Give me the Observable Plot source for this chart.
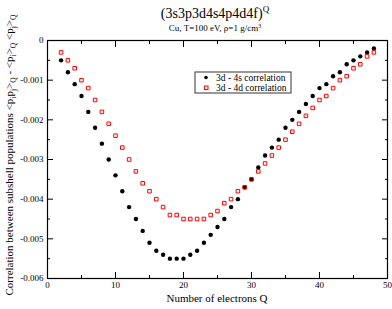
<!DOCTYPE html>
<html>
<head>
<meta charset="utf-8">
<script src="https://cdn.jsdelivr.net/npm/d3@7"></script>
<script src="https://cdn.jsdelivr.net/npm/@observablehq/plot@0.6"></script>
<style>
  html, body { margin: 0; padding: 0; background: #fff; }
  svg { display: block; }
</style>
</head>
<body>
<div id="chart"></div>
<script>
const Q = [2,3,4,5,6,7,8,9,10,11,12,13,14,15,16,17,18,19,20,21,22,23,24,25,26,27,28,29,30,31,32,33,34,35,36,37,38,39,40,41,42,43,44,45,46,47,48];
const corr4s = [-0.0005,-0.0008,-0.0011,-0.0014,-0.0018,-0.0022,-0.0026,-0.0030,-0.0034,-0.0038,-0.0042,-0.0045,-0.0048,-0.0051,-0.0053,-0.0054,-0.0055,-0.0055,-0.0055,-0.0054,-0.0053,-0.0051,-0.0049,-0.0047,-0.0045,-0.0042,-0.0040,-0.0037,-0.0035,-0.0032,-0.0029,-0.0027,-0.0025,-0.0022,-0.0020,-0.0018,-0.0016,-0.0014,-0.0012,-0.0011,-0.0009,-0.0008,-0.0006,-0.0005,-0.0004,-0.0003,-0.0002];
const corr4d = [-0.0003,-0.0005,-0.0007,-0.0010,-0.0012,-0.0015,-0.0018,-0.0021,-0.0024,-0.0027,-0.0030,-0.0033,-0.0036,-0.0038,-0.0040,-0.0042,-0.0044,-0.0044,-0.0045,-0.0045,-0.0045,-0.0045,-0.0044,-0.0043,-0.0041,-0.0040,-0.0038,-0.0037,-0.0035,-0.0033,-0.0031,-0.0029,-0.0027,-0.0025,-0.0023,-0.0021,-0.0019,-0.0017,-0.0015,-0.0014,-0.0012,-0.0010,-0.0009,-0.0007,-0.0006,-0.0004,-0.0003];
const seriesNames = ["3d - 4s correlation", "3d - 4d correlation"];
const xMajor = [0,10,20,30,40,50];
const xMinor = [5,15,25,35,45];
const yMajor = [-0.006,-0.005,-0.004,-0.003,-0.002,-0.001,0];
const yMinor = [-0.0055,-0.0045,-0.0035,-0.0025,-0.0015,-0.0005];

const d4s = Q.map((q,i) => ({Q:q, v:corr4s[i]}));
const d4d = Q.map((q,i) => ({Q:q, v:corr4d[i]}));

const FONT = "Liberation Serif, Times New Roman, serif";
const blank = () => "";
const yfmt = d => d === 0 ? "0" : d.toFixed(3);

const plot = Plot.plot({
  width: 392, height: 309,
  marginLeft: 47, marginRight: 5, marginTop: 40, marginBottom: 31,
  style: {fontFamily: FONT, fontSize: "9px", color: "#000", background: "#fff"},
  x: {domain: [0, 50]},
  y: {domain: [-0.006, 0]},
  marks: [
    Plot.frame({stroke: "#000", strokeWidth: 1.2}),
    Plot.axisX(xMajor, {anchor: "bottom", tickSize: -6, tickPadding: 9, tickFormat: d => String(d), label: null, fontSize: 9}),
    Plot.axisX(xMinor, {anchor: "bottom", tickSize: -3, tickFormat: blank, label: null}),
    Plot.axisX(xMajor, {anchor: "top", tickSize: -6, tickFormat: blank, label: null}),
    Plot.axisX(xMinor, {anchor: "top", tickSize: -3, tickFormat: blank, label: null}),
    Plot.axisY(yMajor, {anchor: "left", tickSize: -6, tickPadding: 10, tickFormat: yfmt, label: null, fontSize: 9}),
    Plot.axisY(yMinor, {anchor: "left", tickSize: -3, tickFormat: blank, label: null}),
    Plot.axisY(yMajor, {anchor: "right", tickSize: -6, tickFormat: blank, label: null}),
    Plot.axisY(yMinor, {anchor: "right", tickSize: -3, tickFormat: blank, label: null}),
    Plot.dot(d4s, {x: "Q", y: "v", r: 2.2, fill: "#000", stroke: "none"}),
    Plot.dot(d4d, {x: "Q", y: "v", r: 2.0, symbol: "square", fill: "none", stroke: "#ff0000", strokeWidth: 1})
  ]
});
document.getElementById("chart").appendChild(plot);

const svg = d3.select(plot);
// Title
const title = svg.append("text").attr("x", 215).attr("y", 18).attr("text-anchor", "middle")
  .attr("font-family", FONT).attr("font-size", 14).attr("fill", "#000");
title.append("tspan").text("(3s3p3d4s4p4d4f)");
title.append("tspan").attr("dy", -6).attr("font-size", 9).text("Q");

const sub = svg.append("text").attr("x", 215).attr("y", 31).attr("text-anchor", "middle")
  .attr("font-family", FONT).attr("font-size", 9).attr("fill", "#000");
sub.append("tspan").text("Cu, T=100 eV, ρ=1 g/cm");
sub.append("tspan").attr("dy", -3).attr("font-size", 6).text("3");

// X label
svg.append("text").attr("x", 217).attr("y", 302).attr("text-anchor", "middle")
  .attr("font-family", FONT).attr("font-size", 11).attr("fill", "#000").text("Number of electrons Q");

// Y label
const yl = svg.append("text").attr("transform", "translate(13,155) rotate(-90)").attr("text-anchor", "middle")
  .attr("font-family", FONT).attr("font-size", 11).attr("fill", "#000");
const parts = [
  ["Correlation between subshell populations <p", 0],
  ["i", 1], ["p", 0], ["j", 1], [">", 0], ["Q", 1], [" - <p", 0], ["i", 1], [">", 0], ["Q", 1],
  [" <p", 0], ["j", 1], [">", 0], ["Q", 1]
];
let prev = 0;
for (const [t, s] of parts) {
  const shift = s ? 3 : 0;
  yl.append("tspan").attr("dy", shift - prev).attr("font-size", s ? 7.5 : 11).text(t);
  prev = shift;
}

// Legend
const lg = svg.append("g").attr("font-family", FONT).attr("font-size", 9.5).attr("text-anchor", "start");
lg.append("rect").attr("x", 195).attr("y", 72).attr("width", 96).attr("height", 21)
  .attr("fill", "#fff").attr("stroke", "#555").attr("stroke-width", 1.2);
lg.append("circle").attr("cx", 206).attr("cy", 77.5).attr("r", 1.8).attr("fill", "#000");
lg.append("rect").attr("x", 204.5).attr("y", 86).attr("width", 3.5).attr("height", 3.5)
  .attr("fill", "none").attr("stroke", "#ff0000").attr("stroke-width", 1);
lg.append("text").attr("x", 216).attr("y", 81).attr("text-anchor", "start").text(seriesNames[0]);
lg.append("text").attr("x", 216).attr("y", 91).attr("text-anchor", "start").text(seriesNames[1]);
</script>
</body>
</html>
